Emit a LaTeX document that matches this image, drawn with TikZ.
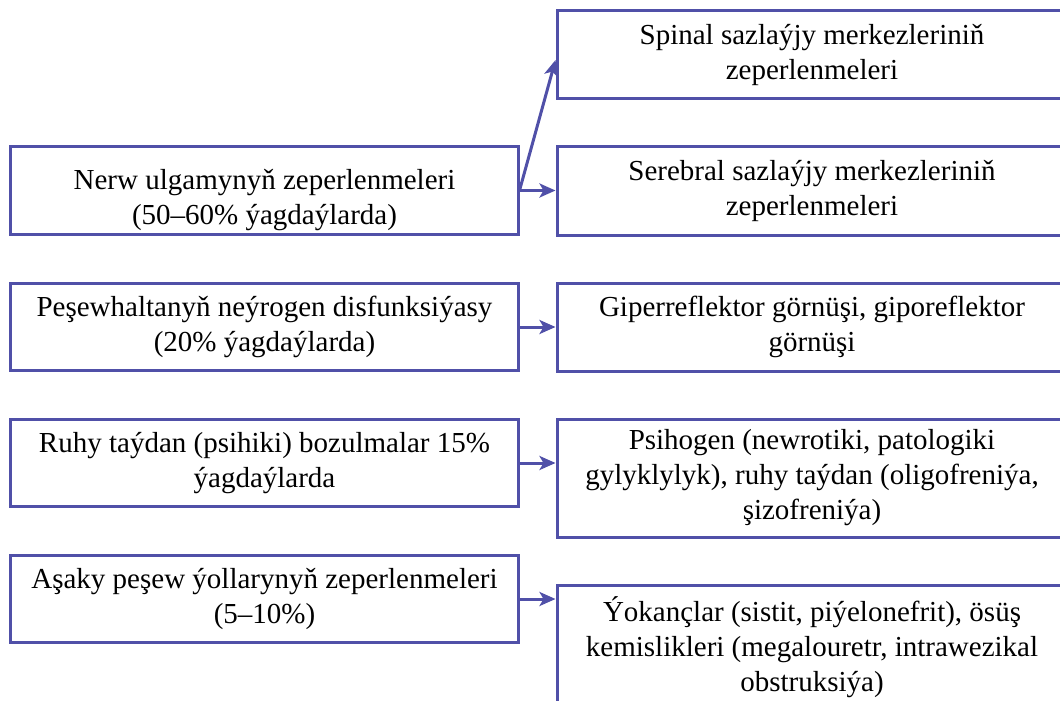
\documentclass[tikz,border=0pt]{standalone}
\usepackage{fontspec}
\setmainfont{Liberation Serif}
\usetikzlibrary{arrows.meta}
\definecolor{boxblue}{RGB}{80,80,168}
\begin{document}
\begin{tikzpicture}[x=1bp,y=-1bp,
  box/.style={draw=boxblue, line width=3bp, inner sep=0pt, align=center, font=\fontsize{29bp}{35bp}\selectfont},
  lbox/.style={box, minimum width=507bp, minimum height=87bp},
  rbox/.style={box, minimum width=510bp},
  conn/.style={draw=boxblue, line width=3bp, -{Stealth[length=16bp,width=14bp,inset=4bp]}}]
\useasboundingbox (0,0) rectangle (1060,701);
\clip (0,0) rectangle (1060,701);
\node[lbox] (n1) at (264.5,190.5) {\rule{0pt}{40bp}Nerw ulgamynyň zeperlenmeleri\\(50–60\% ýagdaýlarda)};
\node[lbox] (n2) at (264.5,327) {Peşewhaltanyň neýrogen disfunksiýasy\\(20\% ýagdaýlarda)};
\node[lbox] (n3) at (264.5,463) {Ruhy taýdan (psihiki) bozulmalar 15\%\\ýagdaýlarda};
\node[lbox] (n4) at (264.5,599) {Aşaky peşew ýollarynyň zeperlenmeleri\\(5–10\%)};
\node[rbox, minimum height=88bp] (r1) at (812,55) {Spinal sazlaýjy merkezleriniň\\zeperlenmeleri};
\node[rbox, minimum height=88bp] (r2) at (812,191) {Serebral sazlaýjy merkezleriniň\\zeperlenmeleri};
\node[rbox, minimum height=88bp] (r3) at (812,327) {Giperreflektor görnüşi, giporeflektor\\görnüşi};
\node[rbox, minimum height=118bp] (r4) at (812,478) {Psihogen (newrotiki, patologiki\\gylyklylyk), ruhy taýdan (oligofreniýa,\\şizofreniýa)};
\node[rbox, minimum height=124bp] (r5) at (812,647) {Ýokançlar (sistit, piýelonefrit), ösüş\\kemislikleri (megalouretr, intrawezikal\\obstruksiýa)};
\draw[conn] (n1.east) -- ([yshift=-5bp]r1.west);
\draw[conn] (n1.east) -- (n1.east -| r2.west);
\draw[conn] (n2.east) -- (n2.east -| r3.west);
\draw[conn] (n3.east) -- (n3.east -| r4.west);
\draw[conn] (n4.east) -- (n4.east -| r5.west);
\end{tikzpicture}
\end{document}
